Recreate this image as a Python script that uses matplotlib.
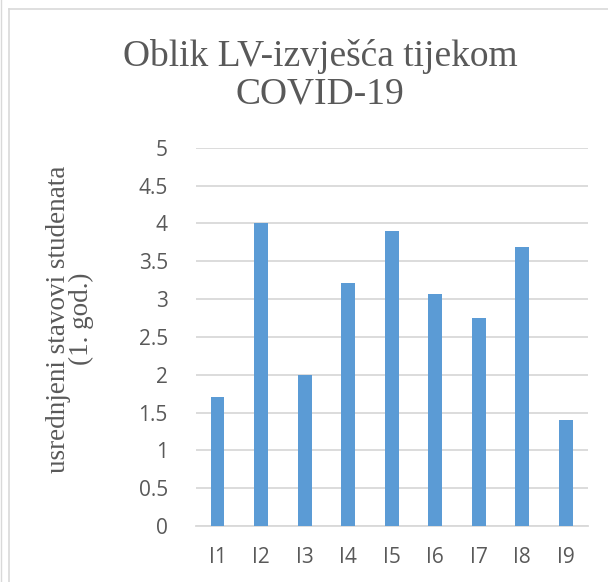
import matplotlib.pyplot as plt
from matplotlib.lines import Line2D

categories = ['I1', 'I2', 'I3', 'I4', 'I5', 'I6', 'I7', 'I8', 'I9']
values = [1.71, 4.0, 2.0, 3.21, 3.9, 3.07, 2.75, 3.69, 1.4]

W, H = 608, 582
fig = plt.figure(figsize=(W / 100, H / 100), dpi=100)
ax = fig.add_axes([195.7 / W, 1 - 526 / H, 392 / W, (526 - 147.7) / H])

ax.bar(range(len(categories)), values, width=0.32, color='#5B9BD5', zorder=3)
ax.set_xlim(-0.5, len(categories) - 0.5)
ax.set_ylim(0, 5)
ax.set_yticks([0, 0.5, 1, 1.5, 2, 2.5, 3, 3.5, 4, 4.5, 5])
ax.set_yticklabels(['0', '0.5', '1', '1.5', '2', '2.5', '3', '3.5', '4', '4.5', '5'])
ax.set_xticks(range(len(categories)))
ax.set_xticklabels(categories)

ax.grid(axis='y', color='#D9D9D9', linewidth=1.3, zorder=0)
for s in ['top', 'right', 'left']:
    ax.spines[s].set_visible(False)
ax.spines['bottom'].set_color('#D9D9D9')
ax.spines['bottom'].set_linewidth(1.3)
ax.tick_params(length=0, labelsize=15, labelcolor='#595959', pad=15)
for t in ax.get_xticklabels() + ax.get_yticklabels():
    t.set_family('Open Sans')
ax.tick_params(axis='y', pad=20)

fig.text(320 / W, 1 - 75 / H, 'Oblik LV-izvješća tijekom\nCOVID-19', ha='center', va='center',
         family='Liberation Serif', fontsize=27, color='#595959', linespacing=1.1)
fig.text(70 / W, 1 - 319 / H, 'usrednjeni stavovi studenata\n(1. god.)', ha='center', va='center',
         rotation=90, family='Liberation Serif', fontsize=19.5, color='#595959', linespacing=0.88)

# chart border
fig.add_artist(Line2D([8.5 / W, 8.5 / W], [0, 1 - 9 / H], transform=fig.transFigure, color='#D9D9D9', lw=1.2))
fig.add_artist(Line2D([8.5 / W, 1], [1 - 9 / H, 1 - 9 / H], transform=fig.transFigure, color='#D9D9D9', lw=1.2))
fig.add_artist(Line2D([0.5 / W, 0.5 / W], [0, 1], transform=fig.transFigure, color='#D9D9D9', lw=1.0))

fig.savefig('out.png', dpi=100)
